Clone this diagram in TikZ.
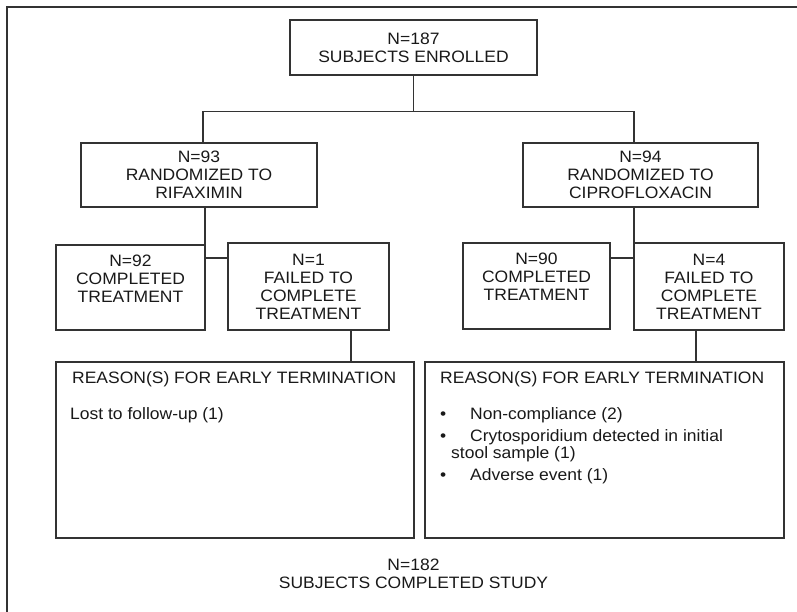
\documentclass[tikz,border=0pt]{standalone}
\usepackage{fontspec}
\setmainfont[FakeStretch=1.06]{Liberation Sans}
\begin{document}
\begin{tikzpicture}[x=1pt,y=-1pt,font=\fontsize{16.5}{18}\selectfont,
  box/.style={draw=black!80,line width=1.1pt,align=center,inner sep=0pt,text=black!90},
  link/.style={draw=black!80,line width=1.1pt},
  txt/.style={anchor=base west,inner sep=0pt,text=black!90}]
  \useasboundingbox (0,0) rectangle (797,612);
  \draw[black!80,line width=1.1pt] (797,7) -| (7,612);
  % boxes
  \node[box,minimum width=247,minimum height=55] (enrol) at (413.5,47.5) {N=187\\SUBJECTS ENROLLED};
  \node[box,minimum width=236,minimum height=64] (lrand) at (199,175) {N=93\\RANDOMIZED TO\\RIFAXIMIN};
  \node[box,minimum width=235,minimum height=64] (rrand) at (640.5,175) {N=94\\RANDOMIZED TO\\CIPROFLOXACIN};
  \node[box,minimum width=149,minimum height=85] (lcomp) at (130.5,287.5) {N=92\\COMPLETED\\TREATMENT\\\mbox{}};
  \node[box,minimum width=161,minimum height=87] (lfail) at (308.5,286.5) {N=1\\FAILED TO\\COMPLETE\\TREATMENT};
  \node[box,minimum width=147,minimum height=86] (rcomp) at (536.5,286) {N=90\\COMPLETED\\TREATMENT\\\mbox{}};
  \node[box,minimum width=150,minimum height=87] (rfail) at (709,286.5) {N=4\\FAILED TO\\COMPLETE\\TREATMENT};
  \node[box,minimum width=358,minimum height=176] (lwhy) at (235,450) {};
  \node[box,minimum width=359,minimum height=176] (rwhy) at (604.5,450) {};
  % connectors
  \coordinate (lbr) at (203,143);
  \coordinate (rbr) at (634,143);
  \coordinate (ljoin) at (205,258);
  \coordinate (rjoin) at (634,258);
  \draw[link] (enrol.south) -- ++(0,36) coordinate (fork);
  \draw[link] (lbr) |- (fork) -| (rbr);
  \draw[link] (ljoin |- lrand.south) -- (ljoin) -- (ljoin -| lfail.west);
  \draw[link] (rjoin |- rrand.south) -- (rjoin) -- (rjoin -| rcomp.east);
  \draw[link] ([xshift=42.5]lfail.south) -- ([xshift=42.5]lfail.south |- lwhy.north);
  \draw[link] ([xshift=-13]rfail.south) -- ([xshift=-13]rfail.south |- rwhy.north);
  % reasons
  \node[txt] (lhead) at (72,383) {REASON(S) FOR EARLY TERMINATION};
  \node[txt] (llost) at (70,419) {Lost to follow-up (1)};
  \node[txt] (rhead) at (440,383) {REASON(S) FOR EARLY TERMINATION};
  \foreach \y/\t in {419/Non-compliance (2),441/Crytosporidium detected in initial,480/Adverse event (1)}{
    \node[txt] at (440,\y) {\textbullet};
    \node[txt] at (470,\y) {\t};}
  \node[txt] (rstool) at (451,458) {stool sample (1)};
  \node[align=center,inner sep=0pt,text=black!90] (done) at (413.5,574) {N=182\\SUBJECTS COMPLETED STUDY};
\end{tikzpicture}
\end{document}
